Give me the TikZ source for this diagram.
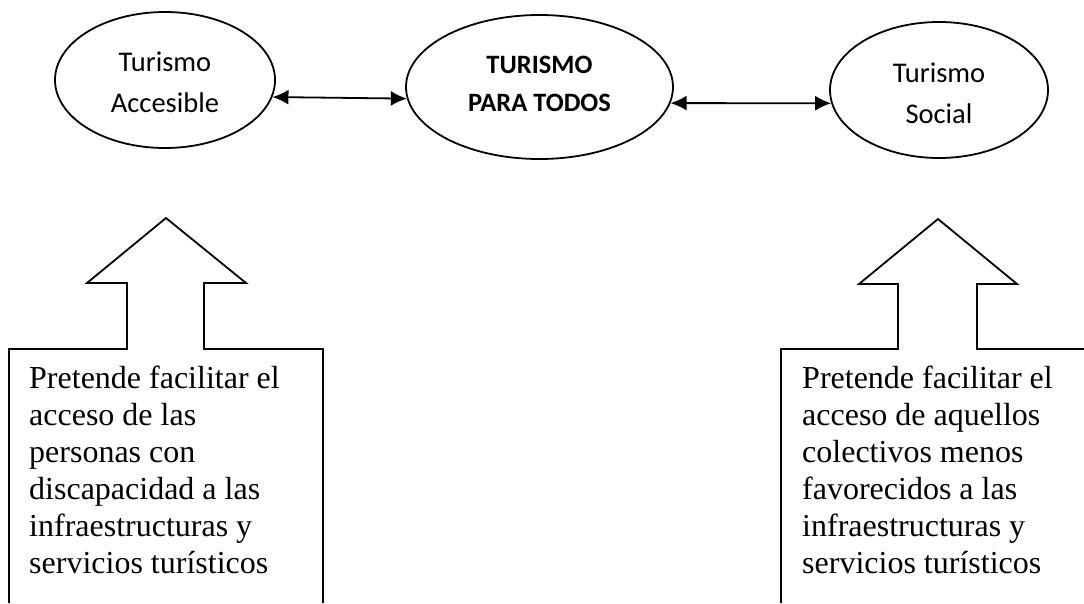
\documentclass[tikz,border=0pt]{standalone}
\usepackage{fontspec}
\setmainfont{Liberation Serif}
\newfontfamily\calib{Carlito}
\usetikzlibrary{arrows.meta,shapes.geometric}
\tikzset{
  oval/.style={draw, line width=1.8pt, ellipse, inner sep=0pt},
  ovaltext/.style={inner sep=0pt, align=center, font=\calib\fontsize{28.5}{41}\selectfont},
  boldtext/.style={inner sep=0pt, align=center, font=\calib\bfseries\fontsize{26.5}{38}\selectfont},
  link/.style={line width=1.8pt, {Latex[length=16pt,width=15pt]}-{Latex[length=16pt,width=15pt]}},
  callout/.style={draw, line width=1.8pt, line join=miter},
  boxtext/.style={anchor=north west, inner sep=0pt, align=left, font=\fontsize{32}{36.9}\selectfont}
}
\begin{document}
\begin{tikzpicture}[x=1pt, y=-1pt]
\useasboundingbox (0,0) rectangle (1084,603);
% ellipses
\node[oval, minimum width=220pt, minimum height=136pt] (acc) at (165,80) {};
\node[ovaltext] (acct) at ([yshift=-2.5pt]acc.center) {Turismo\\Accesible};
\node[oval, minimum width=267pt, minimum height=144pt] (todos) at (539.5,87) {};
\node[boldtext] (todost) at ([yshift=3.5pt]todos.center) {TURISMO\\PARA TODOS};
\node[oval, minimum width=218pt, minimum height=136pt] (soc) at (939,90) {};
\node[ovaltext] (soct) at ([yshift=-3pt]soc.center) {Turismo\\Social};
% connectors
\draw[link] (acc.-9) -- (todos.-175.7);
\draw[link] (todos.-7) -- (soc.-173.1);
% left callout
\draw[callout] (9,603) -- (9,349) -- (127,349) -- (127,283) -- (87,283) -- (166,218)
  -- (246,283) -- (204,283) -- (204,349) -- (323,349) -- (323,603);
\node[boxtext] (ltext) at (29,366) {Pretende facilitar el\\acceso de las\\personas con\\discapacidad a las\\infraestructuras y\\servicios turísticos};
% right callout
\draw[callout] (781,603) -- (781,349) -- (898,349) -- (898,284) -- (859,284) -- (938,219)
  -- (1017,284) -- (977,284) -- (977,349) -- (1084,349);
\node[boxtext] (rtext) at (802,366) {Pretende facilitar el\\acceso de aquellos\\colectivos menos\\favorecidos a las\\infraestructuras y\\servicios turísticos};
\end{tikzpicture}
\end{document}
